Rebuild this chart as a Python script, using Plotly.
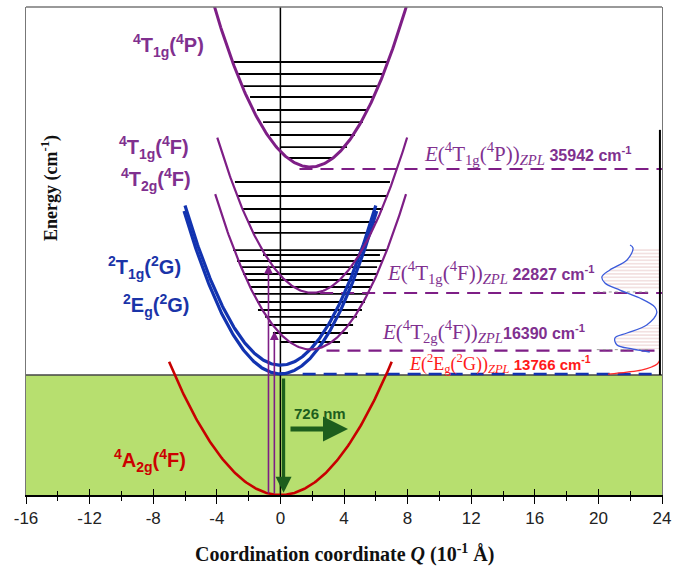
import numpy as np
import plotly.graph_objects as go

# ---------------- data ----------------
# potential curves: E(Q) = E0 + k (Q - Q0)^2   (Q in 10^-1 Å, E in cm^-1)
state_names = ["4A2g(4F)", "2Eg(2G)", "2T1g(2G)", "4T2g(4F)", "4T1g(4F)", "4T1g(4P)"]
state_q0 = [0.0, 0.0, 0.0, 1.9, 2.0, 1.88]
state_e0 = [0, 13900, 14900, 16700, 23200, 37640]
state_k = [312, 509, 509, 495, 500, 505]
state_qhalf = [7.0, 6.06, 6.0, 6.0, 5.97, 6.4]
state_color = ["#c80000", "#1233b0", "#1233b0", "#7e1e86", "#7e1e86", "#7e1e86"]
state_width = [2.6, 3.2, 3.2, 2.2, 2.2, 3.0]

# vibrational levels (energy, left Q, right Q)
vib_E = [49690, 48310, 46930, 45670, 44180, 42800, 41310, 39930, 38670,
         35920, 34310, 32820, 31330, 30070, 28110, 27540, 26850, 26160, 25360,
         24670, 23870, 23070, 22150, 21230, 20430, 19510, 18590, 17560]
vib_qleft = [-2.98, -2.67, -2.35, -1.91, -1.47, -1.09, -0.65, -0.03, 0.48,
             -2.86, -2.73, -2.35, -2.04, -1.72, -2.98, -1.09, -2.73, -2.42, -2.35,
             -2.10, -1.91, -1.72, -1.47, -1.41, -0.97, -0.78, -0.47, -0.03]
vib_qright = [6.77, 6.39, 6.08, 5.82, 5.51, 5.19, 4.69, 4.19, 3.31,
              6.89, 6.77, 6.45, 6.08, 5.76, 6.70, 6.26, 6.45, 6.08, 6.08,
              5.82, 5.76, 5.45, 5.32, 5.13, 4.82, 4.57, 4.25, 3.75]

# zero-phonon lines
zpl_values = [35942, 22827, 16390, 13766]
zpl_states = ["<sup>4</sup>T<sub>1g</sub>(<sup>4</sup>P)",
              "<sup>4</sup>T<sub>1g</sub>(<sup>4</sup>F)",
              "<sup>4</sup>T<sub>2g</sub>(<sup>4</sup>F)",
              "<sup>2</sup>E<sub>g</sub>(<sup>2</sup>G)"]
zpl_draw_E = [37410, 23180, 16560, 13880]
zpl_q_start = [1.2, 2.5, 2.9, 1.4]
zpl_q_end = [24.0, 24.0, 24.0, 23.7]
zpl_label_q = [8.9, 6.57, 6.26, 7.96]
zpl_label_E = [39200, 25500, 18750, 15050]

ground_band_top = 13766

# absorption / emission transitions (Q, E_top)
abs_q = [-0.75, -0.38]
abs_E = [26400, 18800]
emis_q = 0.2
emis_E = [13540, 250]
emis_label = "726 nm"

# inset spectrum (excitation, plotted sideways)
exc_q = [21.99, 22.18, 21.80, 20.72, 20.22, 20.41, 21.35, 22.60, 23.55, 23.67,
         23.04, 21.80, 21.04, 21.17, 22.18, 23.23]
exc_E = [28690, 28340, 26970, 25820, 25020, 24330, 23520, 22610, 21570, 20890,
         19510, 18590, 18020, 17210, 16750, 16410]
em_q = [20.6, 21.8, 22.7, 23.35, 23.7, 23.87]
em_E = [13880, 14110, 14340, 14690, 15030, 15490]
band1_E = (23300, 28400)
band2_E = (16700, 19600)
inset_axis_q = 23.87
inset_axis_E = (13770, 41900)

x_major = [-16, -12, -8, -4, 0, 4, 8, 12, 16, 20, 24]
x_minor = [-14, -10, -6, -2, 2, 6, 10, 14, 18, 22]

# ---------------- colours ----------------
PURPLE_T = "#80308f"
BLUE_T = "#1a34a8"
RED_T = "#cc0000"
GREEN_FILL = "#b7df6f"
DKGREEN = "#1d5e1d"

fig = go.Figure()

fig.add_shape(type="rect", xref="x", yref="y", x0=-16, x1=24, y0=0, y1=ground_band_top,
              fillcolor=GREEN_FILL, line_width=0, layer="below")
fig.add_trace(go.Scatter(x=[-16, 24], y=[ground_band_top] * 2, mode="lines",
                         line=dict(color="#444", width=1.4), hoverinfo="skip"))

# inset hatch bands
exc_q_a = np.array(exc_q)
exc_E_a = np.array(exc_E)
for lo, hi in (band1_E, band2_E):
    m = (exc_E_a >= lo) & (exc_E_a <= hi)
    xs = list(exc_q_a[m]) + [inset_axis_q, inset_axis_q]
    ys = list(exc_E_a[m]) + [exc_E_a[m][-1], exc_E_a[m][0]]
    fig.add_trace(go.Scatter(x=xs, y=ys, fill="toself", mode="lines",
                             line=dict(width=0, color="rgba(0,0,0,0)"),
                             fillcolor="rgba(0,0,0,0)",
                             fillpattern=dict(shape="-", fgcolor="#d49a9a", bgcolor="rgba(0,0,0,0)",
                                              size=3.4, solidity=0.3),
                             hoverinfo="skip"))

# vibrational levels
vx, vy = [], []
for e, a, b in zip(vib_E, vib_qleft, vib_qright):
    vx += [a, b, None]
    vy += [e, e, None]
fig.add_trace(go.Scatter(x=vx, y=vy, mode="lines", line=dict(color="black", width=1.8),
                         hoverinfo="skip"))

# vertical Q=0 line
fig.add_trace(go.Scatter(x=[0, 0], y=[0, 56000], mode="lines",
                         line=dict(color="black", width=1.5), hoverinfo="skip"))

# ZPL dashed lines
for i, e in enumerate(zpl_draw_E):
    col = "#1233b0" if i == 3 else "#7e1e86"
    fig.add_trace(go.Scatter(x=[zpl_q_start[i], zpl_q_end[i]], y=[e, e], mode="lines",
                             line=dict(color=col, width=2.4 if i == 3 else 2.2,
                                       dash="13px,8px"), hoverinfo="skip"))

# potential curves
for q0, e0, k, h, c, w in zip(state_q0, state_e0, state_k, state_qhalf, state_color, state_width):
    q = np.linspace(q0 - h, q0 + h, 200)
    fig.add_trace(go.Scatter(x=q, y=e0 + k * (q - q0) ** 2, mode="lines",
                             line=dict(color=c, width=w), hoverinfo="skip"))

# inset: gray dotted guide lines
for e in zpl_draw_E[1:3]:
    fig.add_trace(go.Scatter(x=[19.9, 23.3], y=[e + 120, e + 120], mode="lines",
                             line=dict(color="#999", width=1, dash="dot"), hoverinfo="skip"))
# inset spectrum curves
fig.add_trace(go.Scatter(x=exc_q, y=exc_E, mode="lines", line=dict(color="#3b5bdb", width=1.3, shape="spline"),
                         hoverinfo="skip"))
fig.add_trace(go.Scatter(x=em_q, y=em_E, mode="lines", line=dict(color="#ff2a2a", width=1.3, shape="spline"),
                         hoverinfo="skip"))
fig.add_trace(go.Scatter(x=[inset_axis_q] * 2, y=list(inset_axis_E), mode="lines",
                         line=dict(color="black", width=2), hoverinfo="skip"))

# invisible trace for overlay tick axis
fig.add_trace(go.Scatter(x=[-16, 24], y=[0, 0], xaxis="x2", mode="markers",
                         marker=dict(opacity=0), hoverinfo="skip"))

ann = []
# absorption arrows
for q, e in zip(abs_q, abs_E):
    ann.append(dict(x=q, y=e, ax=q, ay=0, xref="x", yref="y", axref="x", ayref="y",
                    text="", showarrow=True, arrowhead=2, arrowsize=1.1, arrowwidth=1.6,
                    arrowcolor="#7e1e86"))
# emission arrow
ann.append(dict(x=emis_q, y=emis_E[1], ax=emis_q, ay=emis_E[0], xref="x", yref="y",
                axref="x", ayref="y", text="", showarrow=True, arrowhead=2, arrowsize=1,
                arrowwidth=3.2, arrowcolor=DKGREEN))
ann.append(dict(x=4.25, y=7580, ax=0.54, ay=7580, xref="x", yref="y", axref="x", ayref="y",
                text="", showarrow=True, arrowhead=2, arrowsize=1, arrowwidth=5,
                arrowcolor=DKGREEN))
ann.append(dict(x=2.5, y=9400, xref="x", yref="y", text="<b>" + emis_label + "</b>",
                showarrow=False, font=dict(family="Liberation Sans", size=15, color=DKGREEN)))

# state labels
SANS = "Liberation Sans"
labels = [
    ("<b><sup>4</sup>T<sub>1g</sub>(<sup>4</sup>P)</b>", -7.06, 51600, PURPLE_T),
    ("<b><sup>4</sup>T<sub>1g</sub>(<sup>4</sup>F)</b>", -7.94, 39900, PURPLE_T),
    ("<b><sup>4</sup>T<sub>2g</sub>(<sup>4</sup>F)</b>", -7.8, 36200, PURPLE_T),
    ("<b><sup>2</sup>T<sub>1g</sub>(<sup>2</sup>G)</b>", -8.57, 26100, BLUE_T),
    ("<b><sup>2</sup>E<sub>g</sub>(<sup>2</sup>G)</b>", -7.8, 21800, BLUE_T),
    ("<b><sup>4</sup>A<sub>2g</sub>(<sup>4</sup>F)</b>", -8.2, 4000, RED_T),
]
for t, x, y, c in labels:
    ann.append(dict(x=x, y=y, xref="x", yref="y", text=t, showarrow=False,
                    font=dict(family=SANS, size=20, color=c)))

# ZPL labels
for i in range(4):
    col = "#ff1a1a" if i == 3 else PURPLE_T
    size = 18 if i == 3 else 21
    nsize = 15 if i == 3 else 16
    txt = ("<i>E</i>(" + zpl_states[i] + ")<sub><i>ZPL</i></sub>"
           + "<span style=\"font-family:Liberation Sans;font-size:%dpx\"><b>%s%d cm<sup>-1</sup></b></span>"
           % (nsize, "" if i == 2 else " ", zpl_values[i]))
    ann.append(dict(x=zpl_label_q[i], y=zpl_label_E[i], xref="x", yref="y", text=txt,
                    showarrow=False, xanchor="left",
                    font=dict(family="Liberation Serif", size=size, color=col)))

# axis titles
ann.append(dict(x=0.5, y=(495 - 553) / 488, xref="paper", yref="paper",
                xanchor="center", yanchor="middle",
                text="<b>Coordination coordinate <i>Q</i> (10<sup>-1</sup> Å)</b>",
                showarrow=False, font=dict(family="Liberation Serif", size=20, color="#111")))
ann.append(dict(x=(50 - 26) / 636, y=(495 - 188) / 488, xref="paper", yref="paper",
                xanchor="center", yanchor="middle",
                text="<b>Energy (cm<sup>-1</sup>)</b>", textangle=-90,
                showarrow=False, font=dict(family="Liberation Serif", size=18, color="#111")))

fig.update_layout(
    width=684, height=571,
    margin=dict(l=26, r=22, t=7, b=76),
    plot_bgcolor="white", paper_bgcolor="white",
    showlegend=False,
    annotations=ann,
    xaxis=dict(range=[-16, 24], tickvals=x_major, ticktext=[str(v) for v in x_major],
               ticks="outside", ticklen=7, tickwidth=1.3, tickcolor="black",
               minor=dict(tickmode="array", tickvals=x_minor, ticks="outside", ticklen=4,
                          tickwidth=1.2, tickcolor="black"),
               showline=True, linecolor="black", linewidth=1.5,
               showgrid=False, zeroline=False, ticklabelstandoff=0,
               tickfont=dict(family=SANS, size=17, color="#222")),
    xaxis2=dict(range=[-16, 24], overlaying="x", anchor="y", side="bottom",
                tickvals=x_major, showticklabels=False, ticks="inside", ticklen=6,
                tickwidth=1.3, tickcolor="black",
                minor=dict(tickmode="array", tickvals=x_minor, ticks="inside", ticklen=4,
                           tickwidth=1.2, tickcolor="black"),
                showline=False, showgrid=False, zeroline=False),
    yaxis=dict(range=[0, 56000], showticklabels=False, ticks="", showline=True,
               linecolor="#777", linewidth=1.3, mirror=True, showgrid=False, zeroline=False),
)
fig.add_shape(type="line", xref="paper", yref="paper", x0=0, x1=1, y0=1, y1=1,
              line=dict(color="#777", width=1.3))

fig.write_html("out.html")
